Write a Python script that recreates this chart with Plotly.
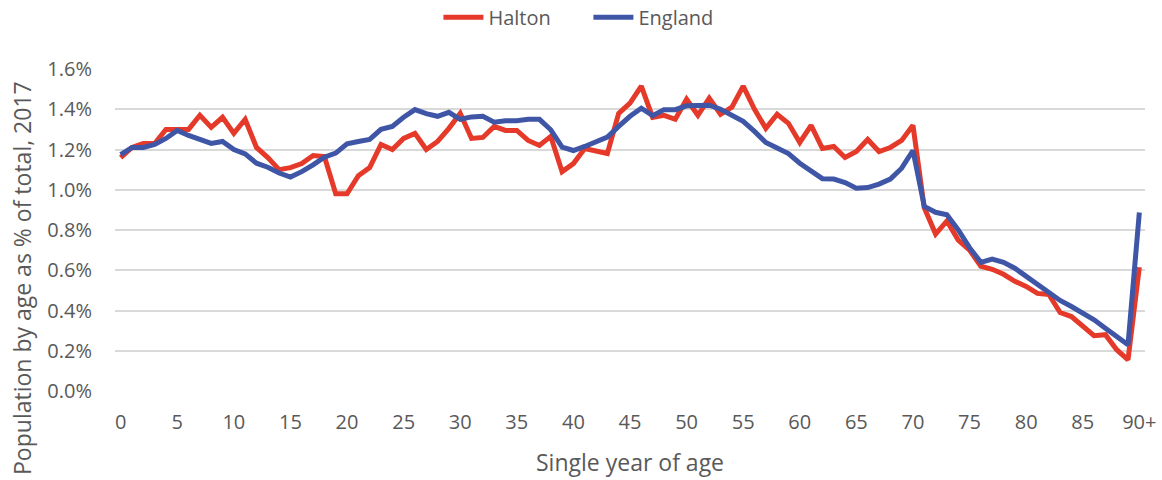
import plotly.graph_objects as go

# Single year of age, 0 to 90+
ages = list(range(91))

# Share of total population at each age, 2017 (%)
halton = [
    1.16, 1.21, 1.23, 1.23, 1.30, 1.30, 1.30, 1.37, 1.31, 1.36,
    1.28, 1.35, 1.21, 1.16, 1.10, 1.11, 1.13, 1.17, 1.165, 0.98,
    0.98, 1.07, 1.11, 1.225, 1.20, 1.255, 1.28, 1.20, 1.24, 1.305,
    1.38, 1.255, 1.26, 1.315, 1.295, 1.295, 1.245, 1.22, 1.265, 1.09,
    1.13, 1.205, 1.195, 1.18, 1.38, 1.43, 1.515, 1.36, 1.37, 1.35,
    1.45, 1.37, 1.455, 1.375, 1.41, 1.515, 1.40, 1.305, 1.375, 1.33,
    1.235, 1.32, 1.205, 1.215, 1.16, 1.19, 1.25, 1.19, 1.21, 1.245,
    1.32, 0.91, 0.78, 0.845, 0.75, 0.70, 0.62, 0.605, 0.58, 0.545,
    0.52, 0.485, 0.48, 0.39, 0.37, 0.32, 0.275, 0.28, 0.205, 0.155,
    0.615,
]
england = [
    1.175, 1.21, 1.21, 1.225, 1.255, 1.295, 1.27, 1.248, 1.23, 1.24,
    1.20, 1.178, 1.132, 1.112, 1.083, 1.063, 1.09, 1.124, 1.162, 1.182,
    1.228, 1.24, 1.25, 1.30, 1.315, 1.36, 1.398, 1.378, 1.365, 1.385,
    1.35, 1.362, 1.365, 1.336, 1.343, 1.343, 1.35, 1.35, 1.298, 1.212,
    1.195, 1.215, 1.24, 1.262, 1.315, 1.365, 1.405, 1.368, 1.398, 1.398,
    1.417, 1.418, 1.42, 1.40, 1.373, 1.34, 1.29, 1.235, 1.207, 1.18,
    1.132, 1.091, 1.055, 1.053, 1.036, 1.008, 1.011, 1.028, 1.053, 1.107,
    1.195, 0.917, 0.888, 0.876, 0.80, 0.712, 0.639, 0.655, 0.639, 0.61,
    0.569, 0.528, 0.49, 0.45, 0.42, 0.39, 0.354, 0.312, 0.268, 0.23,
    0.887,
]

x_tick_vals = list(range(0, 91, 5))
x_tick_text = [str(v) for v in range(0, 90, 5)] + ["90+"]
y_tick_vals = [0.0, 0.2, 0.4, 0.6, 0.8, 1.0, 1.2, 1.4, 1.6]
y_tick_text = [f"{v:.1f}%" for v in y_tick_vals]

RED = "#E5392A"
BLUE = "#3F56A6"
TEXT = "#595959"
FONT = "Open Sans"

fig = go.Figure()
fig.add_trace(go.Scatter(
    x=ages, y=halton, name="Halton", mode="lines",
    line=dict(color=RED, width=5, shape="linear"),
))
fig.add_trace(go.Scatter(
    x=ages, y=england, name="England", mode="lines",
    line=dict(color=BLUE, width=5, shape="linear"),
))

fig.update_layout(
    width=1162, height=480,
    margin=dict(l=115, r=17, t=69, b=89, autoexpand=False),
    paper_bgcolor="white", plot_bgcolor="white",
    font=dict(family=FONT, color=TEXT, size=20),
    showlegend=True,
    legend=dict(
        orientation="h", x=0.314, xanchor="left",
        y=1.161, yanchor="middle",
        font=dict(size=20, color=TEXT, family=FONT),
        itemwidth=40, entrywidth=95, tracegroupgap=0,
    ),
    xaxis=dict(
        range=[-0.5, 90.5],
        tickmode="array", tickvals=x_tick_vals, ticktext=x_tick_text,
        showgrid=False, zeroline=False, showline=False, ticks="",
        tickfont=dict(size=20, color=TEXT),
        ticklabelstandoff=17,
        fixedrange=True,
    ),
    yaxis=dict(
        range=[0, 1.6],
        tickmode="array", tickvals=y_tick_vals, ticktext=y_tick_text,
        showgrid=True, gridcolor="#D9D9D9", gridwidth=1.5,
        zeroline=False, showline=False, ticks="",
        tickfont=dict(size=20, color=TEXT),
        ticklabelstandoff=22,
        fixedrange=True,
    ),
    annotations=[
        dict(
            text="Population by age as % of total, 2017",
            xref="paper", yref="paper", x=-0.0903, y=0.351,
            xanchor="center", yanchor="middle", textangle=-90,
            showarrow=False, font=dict(size=23, color=TEXT, family=FONT),
        ),
        dict(
            text="Single year of age",
            xref="paper", yref="paper", x=0.5, y=-0.2205,
            xanchor="center", yanchor="middle",
            showarrow=False, font=dict(size=23, color=TEXT, family=FONT),
        ),
    ],
)

fig.write_html("out.html")
